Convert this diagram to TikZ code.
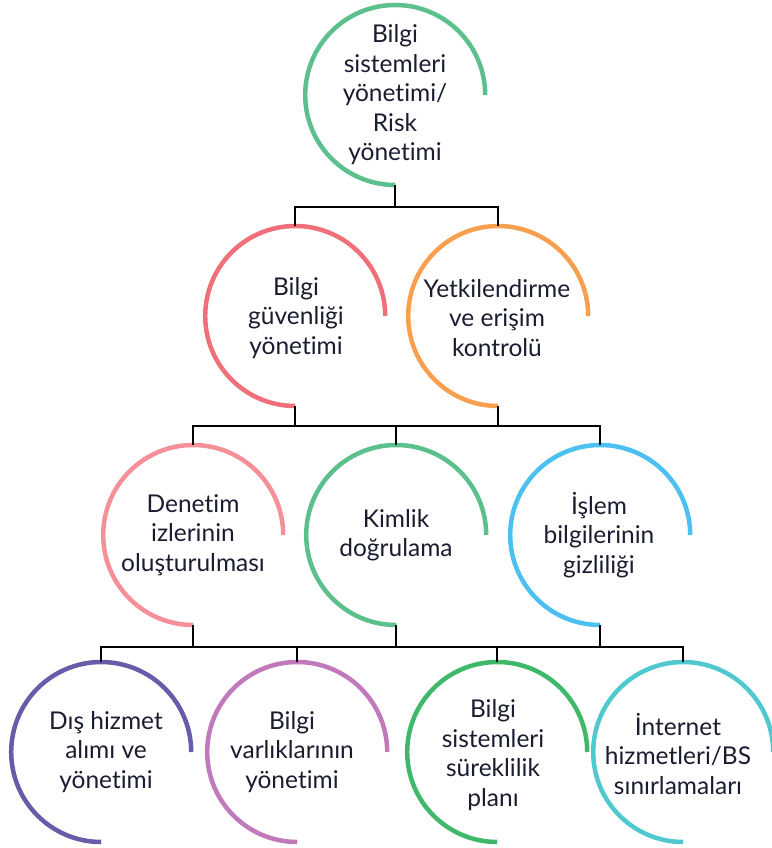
\documentclass[tikz,border=0pt]{standalone}
\usepackage{fontspec}
\setmainfont{Lato}[Ligatures=NoCommon]
\usetikzlibrary{calc}
\definecolor{cA}{HTML}{5CC08E}
\definecolor{cB}{HTML}{F0707A}
\definecolor{cC}{HTML}{F9A050}
\definecolor{cD}{HTML}{F59098}
\definecolor{cE}{HTML}{5CC08C}
\definecolor{cF}{HTML}{4CC0F0}
\definecolor{cG}{HTML}{6A5BAA}
\definecolor{cH}{HTML}{C07ABC}
\definecolor{cI}{HTML}{40B86A}
\definecolor{cJ}{HTML}{50C8D0}
\definecolor{txt}{HTML}{1A1C30}
\tikzset{
  ring/.style={circle,minimum size=180pt,inner sep=0pt},
  lbl/.style={align=center,text=txt,font=\fontsize{24.5}{29.5}\selectfont,inner sep=0pt},
  arcline/.style={line width=4.5pt},
  conn/.style={line width=1.4pt,black}
}
\begin{document}
\begin{tikzpicture}[x=1pt,y=-1pt]
\useasboundingbox (0,0) rectangle (771,848);
% ring placeholders
\node[ring] (n1) at (395,95) {};
\node[ring] (n2) at (295,316) {};
\node[ring] (n3) at (498,316) {};
\node[ring] (n4) at (193,535) {};
\node[ring] (n5) at (396,535) {};
\node[ring] (n6) at (600,535) {};
\node[ring] (n7) at (101,752) {};
\node[ring] (n8) at (297,752) {};
\node[ring] (n9) at (497,752) {};
\node[ring] (n10) at (683,752) {};
% arcs
\foreach \n/\c in {n1/cA,n2/cB,n3/cC,n4/cD,n5/cE,n6/cF,n7/cG,n8/cH,n9/cI,n10/cJ}
  \draw[arcline,\c] (\n.east) arc[start angle=0,end angle=270,radius=90pt];
% labels
\node[lbl] (t1) at (395,95) {Bilgi\\sistemleri\\yönetimi/\\Risk\\yönetimi};
\node[lbl] (t2) at (296,318) {Bilgi\\güvenliği\\yönetimi};
\node[lbl] (t3) at (497,318) {Yetkilendirme\\ve erişim\\kontrolü};
\node[lbl] (t4) at (193,535) {Denetim\\izlerinin\\oluşturulması};
\node[lbl] (t5) at (396,535) {Kimlik\\doğrulama};
\node[lbl] (t6) at (599,535) {İşlem\\bilgilerinin\\gizliliği};
\node[lbl] (t7) at (106,752) {Dış hizmet\\alımı ve\\yönetimi};
\node[lbl] (t8) at (292,752) {Bilgi\\varlıklarının\\yönetimi};
\node[lbl] (t9) at (493,755) {Bilgi\\sistemleri\\süreklilik\\planı};
\node[lbl] (t10) at (678,754) {İnternet\\hizmetleri/BS\\sınırlamaları};
% buses
\coordinate (b1) at (395,207);
\coordinate (b2) at (395,426);
\coordinate (b3) at (395,647);
% level 1 -> 2
\draw[conn] (n1.south) -- (n1.south |- b1);
\draw[conn] (n2.north) |- (n3.north |- b1) -- (n3.north);
% level 2 -> 3
\draw[conn] (n2.south) -- (n2.south |- b2);
\draw[conn] (n3.south) -- (n3.south |- b2);
\draw[conn] (n4.north) |- (n6.north |- b2) -- (n6.north);
\draw[conn] (n5.north) -- (n5.north |- b2);
% level 3 -> 4
\draw[conn] (n4.south) -- (n4.south |- b3);
\draw[conn] (n5.south) -- (n5.south |- b3);
\draw[conn] (n6.south) -- (n6.south |- b3);
\draw[conn] (n7.north) |- (n10.north |- b3) -- (n10.north);
\draw[conn] (n8.north) -- (n8.north |- b3);
\draw[conn] (n9.north) -- (n9.north |- b3);
\end{tikzpicture}
\end{document}
